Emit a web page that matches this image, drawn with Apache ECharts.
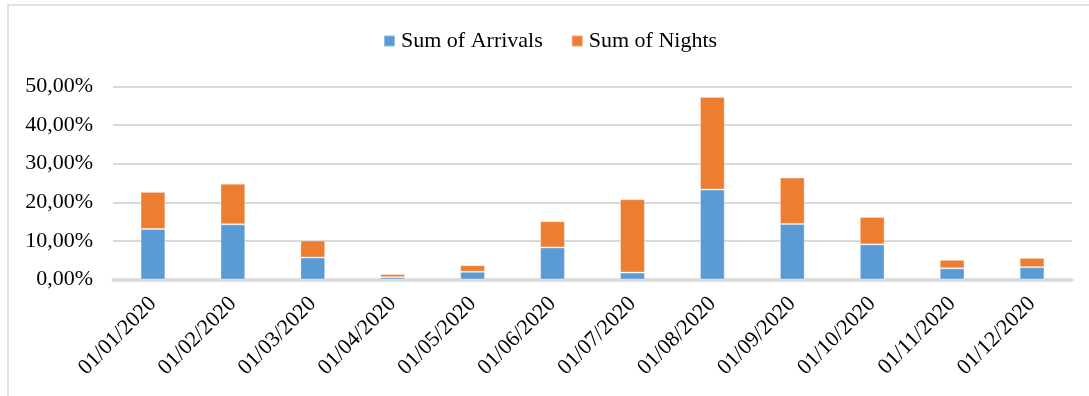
<!DOCTYPE html>
<html>
<head>
<meta charset="utf-8">
<script src="https://cdn.jsdelivr.net/npm/echarts@6/dist/echarts.min.js"></script>
<style>
  html, body { margin: 0; padding: 0; background: #fff; }
  #chart { width: 1089px; height: 396px; }
</style>
</head>
<body>
<div id="chart"></div>
<script>
// Monthly share of arrivals and nights, in percent
const months = ['01/01/2020', '01/02/2020', '01/03/2020', '01/04/2020', '01/05/2020', '01/06/2020',
                '01/07/2020', '01/08/2020', '01/09/2020', '01/10/2020', '01/11/2020', '01/12/2020'];
const arrivals = [13.1, 14.3, 5.7, 0.6, 2.0, 8.3, 1.8, 23.3, 14.4, 9.1, 2.9, 3.2];
const nights   = [9.6, 10.5, 4.4, 0.8, 1.7, 6.8, 19.0, 24.0, 12.0, 7.1, 2.2, 2.4];
const yTicks   = [0, 10, 20, 30, 40, 50];

const font = 'Liberation Serif, Times New Roman, serif';
const pct = v => v.toFixed(2).replace('.', ',') + '%';

const chart = echarts.init(document.getElementById('chart'), null, { renderer: 'canvas' });
chart.setOption({
  animation: false,
  backgroundColor: '#fff',
  graphic: [{
    type: 'rect',
    shape: { x: 8, y: 5, width: 1200, height: 500 },
    style: { fill: 'none', stroke: '#d9d9d9', lineWidth: 1.5 },
    silent: true
  }],
  legend: {
    left: 378,
    top: 25,
    itemWidth: 11,
    itemHeight: 11,
    itemGap: 28,
    icon: 'rect',
    textStyle: { fontFamily: font, fontSize: 22, color: '#000', padding: [0, 0, 0, 1] },
    data: ['Sum of Arrivals', 'Sum of Nights']
  },
  grid: { left: 113, right: 17, top: 86.5, bottom: 116.5, containLabel: false },
  xAxis: {
    type: 'category',
    data: months,
    axisTick: { show: false },
    axisLine: { lineStyle: { color: '#d9d9d9', width: 3.5 } },
    axisLabel: {
      rotate: 45,
      interval: 0,
      margin: 21,
      fontFamily: font,
      fontSize: 22,
      color: '#000'
    }
  },
  yAxis: {
    type: 'value',
    min: yTicks[0],
    max: yTicks[yTicks.length - 1],
    interval: 10,
    axisLine: { show: false },
    axisTick: { show: false },
    splitLine: { lineStyle: { color: '#d9d9d9', width: 2 } },
    axisLabel: {
      margin: 20,
      fontFamily: font,
      fontSize: 22,
      color: '#000',
      formatter: pct
    }
  },
  series: [
    {
      name: 'Sum of Arrivals',
      type: 'bar',
      stack: 'total',
      barWidth: '31%',
      data: arrivals,
      itemStyle: { color: '#5b9bd5', borderColor: 'rgba(255,255,255,0.35)', borderWidth: 1 }
    },
    {
      name: 'Sum of Nights',
      type: 'bar',
      stack: 'total',
      barWidth: '31%',
      data: nights,
      itemStyle: { color: '#ed7d31', borderColor: 'rgba(255,255,255,0.35)', borderWidth: 1 }
    }
  ]
});
</script>
</body>
</html>
